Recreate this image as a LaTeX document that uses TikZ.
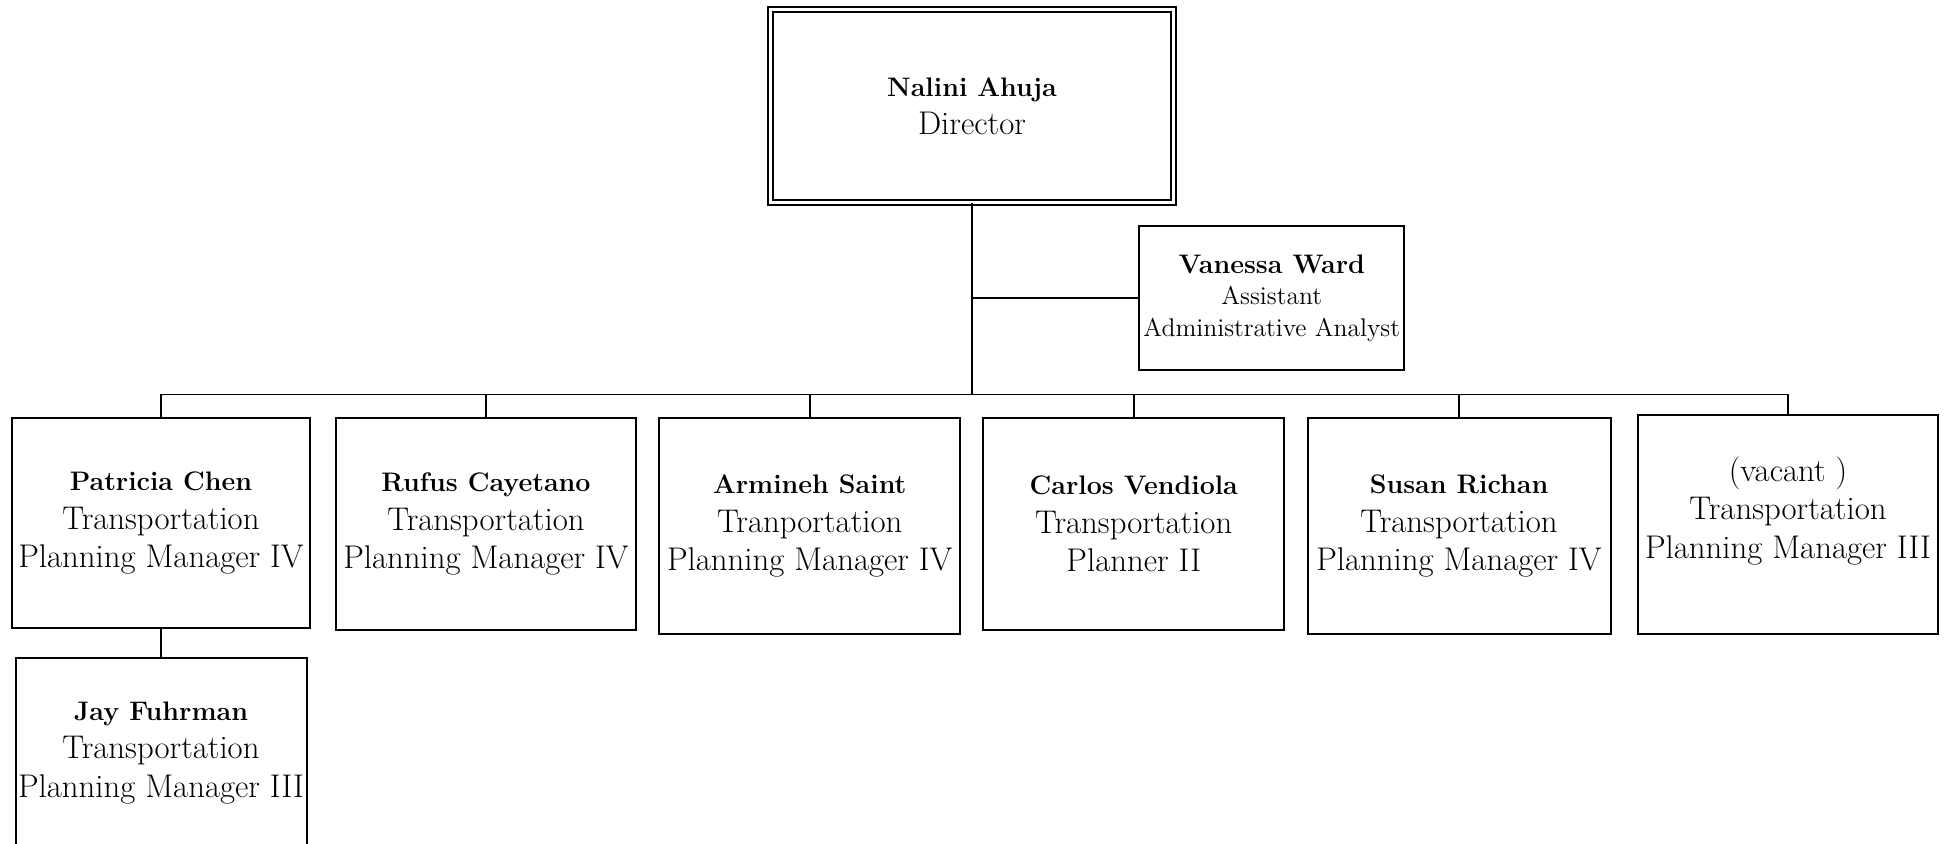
\documentclass[tikz,border=0pt]{standalone}
\usepackage{tikz}
\usetikzlibrary{positioning}
\newcommand{\who}[1]{{\bfseries\fontsize{13.4}{19.2}\selectfont #1}}
\tikzset{
  staff/.style={draw, line width=1pt, inner sep=0pt, align=center,
                font=\fontsize{16.4}{19.2}\selectfont},
  link/.style={line width=0.9pt},
}

\begin{document}
\begin{tikzpicture}[x=0.5pt, y=-0.5pt]
    \clip (0,0) rectangle (1954,843);
    % Director
    \node[staff, double=white, double distance=1.25pt, minimum width=201.4pt, minimum height=96.4pt] (dir) at (972,106)
        {\who{Nalini Ahuja}\\Director};
    % Assistant
    \node[staff, minimum width=132.3pt, minimum height=72pt, font=\fontsize{12.8}{15.8}\selectfont] (van) at (1271.75,298)
        {\who{Vanessa Ward}\\Assistant\\Administrative Analyst};
    % Managers
    \node[staff, minimum width=149pt, minimum height=105pt] (pc) at (161,523)
        {\who{Patricia Chen}\\Transportation\\Planning Manager IV};
    \node[staff, minimum width=150pt, minimum height=106pt] (rc) at (486,524)
        {\who{Rufus Cayetano}\\Transportation\\Planning Manager IV};
    \node[staff, minimum width=150.3pt, minimum height=108pt] (as) at (809.75,526)
        {\who{Armineh Saint}\\Tranportation\\Planning Manager IV};
    \node[staff, minimum width=150.3pt, minimum height=106pt] (cv) at (1133.75,524)
        {\who{Carlos Vendiola}\\Transportation\\Planner II};
    \node[staff, minimum width=151.5pt, minimum height=108pt] (sr) at (1459,526)
        {\who{Susan Richan}\\Transportation\\Planning Manager IV};
    \node[staff, minimum width=150pt, minimum height=109.5pt] (vac) at (1788,524.5)
        {(vacant )\\Transportation\\Planning Manager III\\[-2pt]\mbox{}};
    \node[staff, minimum width=145.5pt, minimum height=95pt] (jf) at (161,753)
        {\who{Jay Fuhrman}\\Transportation\\Planning Manager III};
    % Lines
    \coordinate (bus) at (972,394.5);
    \draw[link] (dir.south) -- (bus);
    \draw[link] (dir.south |- van.west) -- (van.west);
    \draw[link] (pc.north) |- (bus) -| (vac.north);
    \foreach \n in {rc,as,cv,sr}
        \draw[link] (\n.north) -- (\n.north |- bus);
    \draw[link] (pc.south) -- (jf.north);
\end{tikzpicture}
\end{document}
